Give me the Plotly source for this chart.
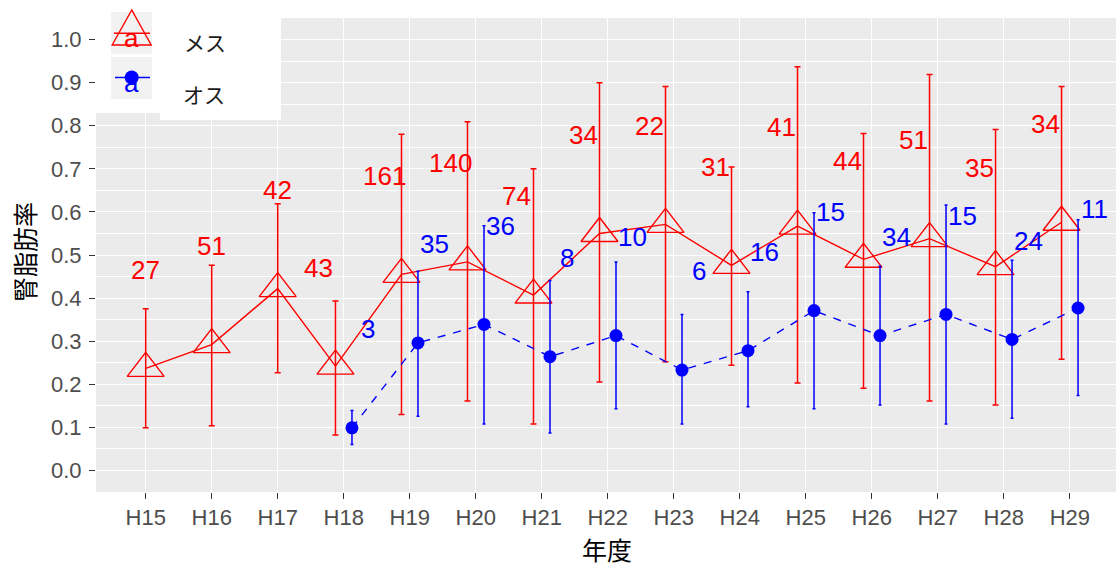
import plotly.graph_objects as go

# ---- data -------------------------------------------------------------
years = ["H15", "H16", "H17", "H18", "H19", "H20", "H21", "H22",
         "H23", "H24", "H25", "H26", "H27", "H28", "H29"]

female_mean = [0.237, 0.292, 0.422, 0.242, 0.455, 0.484, 0.407, 0.550,
               0.571, 0.476, 0.567, 0.490, 0.538, 0.473, 0.576]
female_lower = [0.099, 0.104, 0.227, 0.082, 0.130, 0.161, 0.108, 0.205,
                0.252, 0.244, 0.203, 0.191, 0.161, 0.152, 0.258]
female_upper = [0.375, 0.476, 0.619, 0.393, 0.780, 0.809, 0.700, 0.900,
                0.891, 0.704, 0.937, 0.782, 0.919, 0.791, 0.891]
female_n = [27, 51, 42, 43, 161, 140, 74, 34, 22, 31, 41, 44, 51, 35, 34]

male_mean = [None, None, None, 0.099, 0.296, 0.339, 0.264, 0.313,
             0.233, 0.278, 0.371, 0.313, 0.362, 0.304, 0.377]
male_lower = [None, None, None, 0.060, 0.126, 0.108, 0.087, 0.143,
              0.108, 0.148, 0.143, 0.152, 0.108, 0.121, 0.174]
male_upper = [None, None, None, 0.139, 0.462, 0.568, 0.441, 0.484,
              0.362, 0.415, 0.598, 0.474, 0.616, 0.488, 0.582]
male_n = [None, None, None, 3, 35, 36, 8, 10, 6, 16, 15, 34, 15, 24, 11]

y_ticks = [0.0, 0.1, 0.2, 0.3, 0.4, 0.5, 0.6, 0.7, 0.8, 0.9, 1.0]

# ---- styling ----------------------------------------------------------
RED = "#FF0000"
BLUE = "#0000FF"
PANEL = "#EBEBEB"
KEY_BG = "#F2F2F2"
TICK_TXT = "#4D4D4D"
SANS = "Liberation Sans, Arial, sans-serif"
CJK = "Noto Sans CJK JP, sans-serif"

DODGE = 0.125        # point offset when both sexes share a year
LABEL_DODGE = 0.375  # sample-size label offset
LABEL_RISE = 0.229   # labels sit above the mean

# plot-area geometry (pixels) used for the hand-built legend
L, T, W, H = 96, 18, 1020, 474
FIG_W, FIG_H = 1116, 567


def px(x):
    return (x - L) / W


def py(y):
    return (T + H - y) / H


idx = list(range(len(years)))
has_male = [m is not None for m in male_mean]

f_x = [i - DODGE if b else i for i, b in zip(idx, has_male)]
f_err_hi = [u - m for u, m in zip(female_upper, female_mean)]
f_err_lo = [m - l for m, l in zip(female_mean, female_lower)]

m_sel = [i for i in idx if has_male[i]]
m_x = [i + DODGE for i in m_sel]
m_y = [male_mean[i] for i in m_sel]
m_err_hi = [male_upper[i] - male_mean[i] for i in m_sel]
m_err_lo = [male_mean[i] - male_lower[i] for i in m_sel]

fig = go.Figure()

fig.add_trace(go.Scatter(
    x=f_x, y=female_mean, mode="lines+markers", name="メス",
    line=dict(color=RED, width=1.4),
    marker=dict(symbol="triangle-up-open", size=32, color=RED,
                line=dict(color=RED, width=1.4)),
    error_y=dict(type="data", symmetric=False, array=f_err_hi,
                 arrayminus=f_err_lo, color=RED, thickness=1.5, width=3),
    showlegend=False,
))

fig.add_trace(go.Scatter(
    x=m_x, y=m_y, mode="lines+markers", name="オス",
    line=dict(color=BLUE, width=1.4, dash="8px,8px"),
    marker=dict(symbol="circle", size=13, color=BLUE, line=dict(width=0)),
    error_y=dict(type="data", symmetric=False, array=m_err_hi,
                 arrayminus=m_err_lo, color=BLUE, thickness=1.5, width=1.5),
    showlegend=False,
))

annotations = []

# sample-size labels
for i in idx:
    fx_lab = i - LABEL_DODGE if has_male[i] else i
    annotations.append(dict(
        x=fx_lab, y=female_mean[i] + LABEL_RISE, xref="x", yref="y",
        text=str(female_n[i]), showarrow=False,
        xanchor="center", yanchor="middle",
        font=dict(family=SANS, size=26, color=RED)))
    if has_male[i]:
        annotations.append(dict(
            x=i + LABEL_DODGE, y=male_mean[i] + LABEL_RISE, xref="x", yref="y",
            text=str(male_n[i]), showarrow=False,
            xanchor="center", yanchor="middle",
            font=dict(family=SANS, size=26, color=BLUE)))

# axis titles
annotations.append(dict(
    x=px(607), y=py(549), xref="paper", yref="paper", text="年度",
    showarrow=False, xanchor="center", yanchor="middle",
    font=dict(family=CJK, size=25, color="black")))
annotations.append(dict(
    x=px(24), y=py(252), xref="paper", yref="paper", text="腎脂肪率",
    textangle=-90, showarrow=False, xanchor="center", yanchor="middle",
    font=dict(family=CJK, size=25, color="black")))

# legend: key glyph letters and labels
key_cx = 131.7
annotations.append(dict(
    x=px(key_cx), y=py(38), xref="paper", yref="paper", text="a",
    showarrow=False, xanchor="center", yanchor="middle",
    font=dict(family=SANS, size=26, color=RED)))
annotations.append(dict(
    x=px(key_cx), y=py(83), xref="paper", yref="paper", text="a",
    showarrow=False, xanchor="center", yanchor="middle",
    font=dict(family=SANS, size=26, color=BLUE)))
annotations.append(dict(
    x=px(205), y=py(42), xref="paper", yref="paper", text="メス",
    showarrow=False, xanchor="center", yanchor="middle",
    font=dict(family=CJK, size=21, color="#1A1A1A")))
annotations.append(dict(
    x=px(204), y=py(94), xref="paper", yref="paper", text="オス",
    showarrow=False, xanchor="center", yanchor="middle",
    font=dict(family=CJK, size=21, color="#1A1A1A")))


def rect(x0, y0, x1, y1, fill):
    return dict(type="rect", xref="paper", yref="paper",
                x0=px(x0), x1=px(x1), y0=py(y1), y1=py(y0),
                fillcolor=fill, line=dict(width=0), layer="above")


tri = [(key_cx, 10.0), (key_cx - 19.5, 45.0), (key_cx + 19.5, 45.0)]
tri_path = "M {} {} L {} {} L {} {} Z".format(
    px(tri[0][0]), py(tri[0][1]), px(tri[1][0]), py(tri[1][1]),
    px(tri[2][0]), py(tri[2][1]))

shapes = [
    rect(96, 0, 160, 113, "white"),
    rect(160, 0, 281, 120, "white"),
    rect(111, 12, 152, 54, KEY_BG),
    rect(111, 57, 152, 99, KEY_BG),
    dict(type="line", xref="paper", yref="paper",
         x0=px(114), x1=px(150), y0=py(33.3), y1=py(33.3),
         line=dict(color=RED, width=1.4), layer="above"),
    dict(type="path", xref="paper", yref="paper", path=tri_path,
         line=dict(color=RED, width=1.4), fillcolor="rgba(0,0,0,0)",
         layer="above"),
    dict(type="line", xref="paper", yref="paper",
         x0=px(115), x1=px(150), y0=py(77.5), y1=py(77.5),
         line=dict(color=BLUE, width=1.4), layer="above"),
    dict(type="circle", xref="paper", yref="paper",
         x0=px(key_cx - 7), x1=px(key_cx + 7), y0=py(84.5), y1=py(70.5),
         fillcolor=BLUE, line=dict(width=0), layer="above"),
]

fig.update_layout(
    width=FIG_W, height=FIG_H,
    margin=dict(l=L, r=FIG_W - L - W, t=T, b=FIG_H - T - H, pad=0),
    paper_bgcolor="white", plot_bgcolor=PANEL,
    showlegend=False,
    annotations=annotations,
    shapes=shapes,
    xaxis=dict(
        range=[-0.753, 14.70], tickmode="array", tickvals=idx, ticktext=years,
        showgrid=True, gridcolor="white", gridwidth=1.1, zeroline=False,
        showline=False, ticks="outside", ticklen=6, tickwidth=1.1,
        tickcolor="#333333",
        tickfont=dict(family=SANS, size=22, color=TICK_TXT),
    ),
    yaxis=dict(
        range=[-0.05, 1.05], tickmode="array", tickvals=y_ticks,
        ticktext=["{:.1f}".format(v) for v in y_ticks],
        showgrid=True, gridcolor="white", gridwidth=1.1, zeroline=False,
        showline=False, ticks="outside", ticklen=6, tickwidth=1.1,
        tickcolor="#333333", ticklabelstandoff=3,
        tickfont=dict(family=SANS, size=22, color=TICK_TXT),
        minor=dict(tickvals=[v + 0.05 for v in y_ticks[:-1]], showgrid=True,
                   gridcolor="white", gridwidth=0.6, ticks=""),
    ),
)

fig.write_html("out.html")
